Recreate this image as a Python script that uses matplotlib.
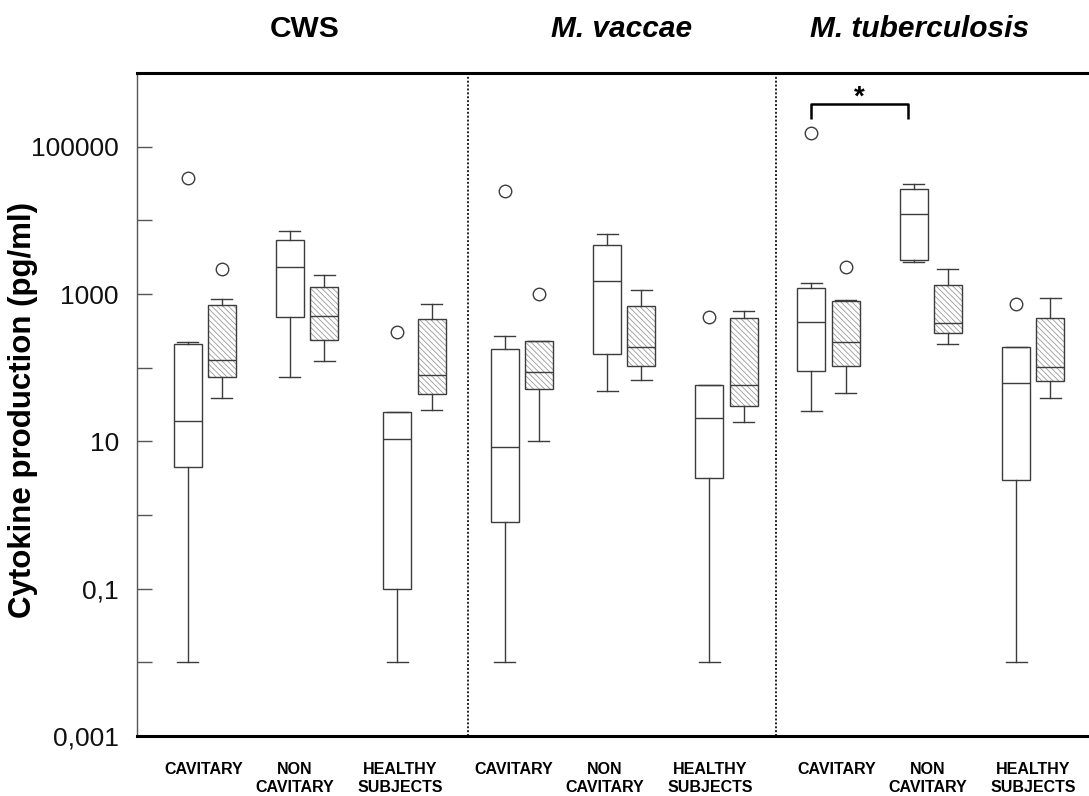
import matplotlib
matplotlib.use("Agg")
import matplotlib.pyplot as plt
import matplotlib.transforms as mtransforms
from matplotlib.patches import PathPatch

plt.rcParams['font.family'] = ['Liberation Sans', 'DejaVu Sans']
plt.rcParams['hatch.linewidth'] = 0.6

# ---------------- data ----------------
panels = ["CWS", "M. vaccae", "M. tuberculosis"]
groups = ["CAVITARY", "NON\nCAVITARY", "HEALTHY\nSUBJECTS"]

# order of boxes: for each panel, for each group: (white, hatched)
whis_hi = [226, 864, 7260, 1820, 25, 733,
           268, 232, 6530, 1130, 59, 594,
           1400, 837, 30950, 2200, 188, 875]
q3 = [211, 703, 5480, 1256, 25, 455,
      182, 232, 4690, 682, 59, 474,
      1194, 797, 26500, 1324, 188, 474]
med = [18.6, 129, 2320, 509, 10.7, 80,
       8.5, 86, 1500, 188, 20.6, 58,
       422, 222, 12160, 402, 61.4, 101]
q1 = [4.5, 74, 489, 234, 0.1, 43.5,
      0.81, 51, 153, 107, 3.2, 30.4,
      91, 106, 2880, 294, 3.03, 66.7]
whis_lo = [0.01, 38.5, 75, 124, 0.01, 26.8,
           0.01, 10, 48, 68, 0.01, 18.1,
           25.6, 45.5, 2710, 207, 0.01, 39]
outliers = [[38000], [2160], [], [], [306], [],
            [25400], [1000], [], [], [493], [],
            [154600], [2340], [], [], [740], []]

ytick_vals = [1e-3, 1e-2, 1e-1, 1, 10, 100, 1e3, 1e4, 1e5]
ytick_labels = ["0,001", "", "0,1", "", "10", "", "1000", "", "100000"]

# ---------------- layout ----------------
W, H = 1089, 796
fig = plt.figure(figsize=(W / 100, H / 100), dpi=100)
ax_l, ax_r, ax_t, ax_b = 137, 1089, 73, 736
ax = fig.add_axes([ax_l / W, 1 - ax_b / H, (ax_r - ax_l) / W, (ax_b - ax_t) / H])

group_x = [67.6, 169.9, 277.4, 384.8, 487.3, 589.4, 691.5, 793.8, 896.2]
pair_off = 17.1
label_x = [66.4, 158.0, 263.5, 376.6, 467.5, 573.5, 700.0, 791.0, 896.0]
title_x = [168, 485, 783]
sep_x = [331, 639]

positions = []
for gx in group_x:
    positions += [gx - pair_off, gx + pair_off]

stats = []
for i in range(len(med)):
    stats.append(dict(med=med[i], q1=q1[i], q3=q3[i], whislo=whis_lo[i],
                      whishi=whis_hi[i], fliers=outliers[i]))

ec = '#3c3c3c'
bp = ax.bxp(stats, positions=positions, widths=28, capwidths=21,
            patch_artist=True, showfliers=True,
            boxprops=dict(facecolor='none', edgecolor=ec, linewidth=1.0),
            medianprops=dict(color=ec, linewidth=1.0),
            whiskerprops=dict(color=ec, linewidth=1.0),
            capprops=dict(color=ec, linewidth=1.0),
            flierprops=dict(marker='o', markersize=9, markerfacecolor='none',
                            markeredgecolor=ec, markeredgewidth=1.0))

for i, box in enumerate(bp['boxes']):
    if i % 2 == 1:
        hp = PathPatch(box.get_path(), transform=box.get_transform(),
                       facecolor='none', edgecolor='#9a9a9a', linewidth=0,
                       hatch='\\\\\\\\\\\\', zorder=1.5)
        ax.add_patch(hp)

ax.set_yscale('log')
ax.set_ylim(1e-3, 1e6)
ax.set_xlim(0, ax_r - ax_l)
ax.set_yticks(ytick_vals)
ax.set_yticklabels(ytick_labels)
ax.yaxis.set_minor_locator(matplotlib.ticker.NullLocator())
ax.set_xticks([])
ax.tick_params(axis='y', direction='in', length=11, width=1.0, color='#555555',
               labelsize=19, pad=13, labelcolor='#111111')

ax.spines['right'].set_visible(False)
ax.spines['left'].set_color('#555555')
ax.spines['left'].set_linewidth(1.0)
for s in ('top', 'bottom'):
    ax.spines[s].set_color('black')
    ax.spines[s].set_linewidth(2.2)

for x in sep_x:
    ax.axvline(x, color='#222222', linewidth=1.4, linestyle=(0, (1, 1)), zorder=1)

# titles
tr_top = mtransforms.blended_transform_factory(ax.transData, fig.transFigure)
for i, t in enumerate(panels):
    ax.text(title_x[i], 1 - 29 / H, t, transform=tr_top, ha='center', va='center',
            fontsize=21.5, fontweight='bold', style='normal' if i == 0 else 'italic',
            clip_on=False)

# group labels
for p in range(3):
    for g, name in enumerate(groups):
        lines = name.split('\n')
        for k, ln in enumerate(lines):
            ax.text(label_x[p * 3 + g], 1 - (770 + 18 * k) / H, ln, transform=tr_top,
                    ha='center', va='center', fontsize=11.5, fontweight='bold',
                    clip_on=False)

# significance bracket
tr_ax = mtransforms.blended_transform_factory(ax.transData, ax.transAxes)
bx0, bx1 = positions[12], positions[14] - 6
yb = (ax_b - 119) / (ax_b - ax_t)
yt = (ax_b - 104) / (ax_b - ax_t)
ax.plot([bx0, bx0, bx1, bx1], [yb, yt, yt, yb], color='black', linewidth=1.8,
        transform=tr_ax, clip_on=False, solid_capstyle='butt')
ax.text((bx0 + bx1) / 2, (ax_b - 98) / (ax_b - ax_t), '*', transform=tr_ax,
        ha='center', va='center', fontsize=20, fontweight='bold')

fig.text(23 / W, 1 - 410 / H, 'Cytokine production (pg/ml)', rotation=90,
         ha='center', va='center', fontsize=22.5, fontweight='bold')

fig.savefig('out.png', dpi=100)
